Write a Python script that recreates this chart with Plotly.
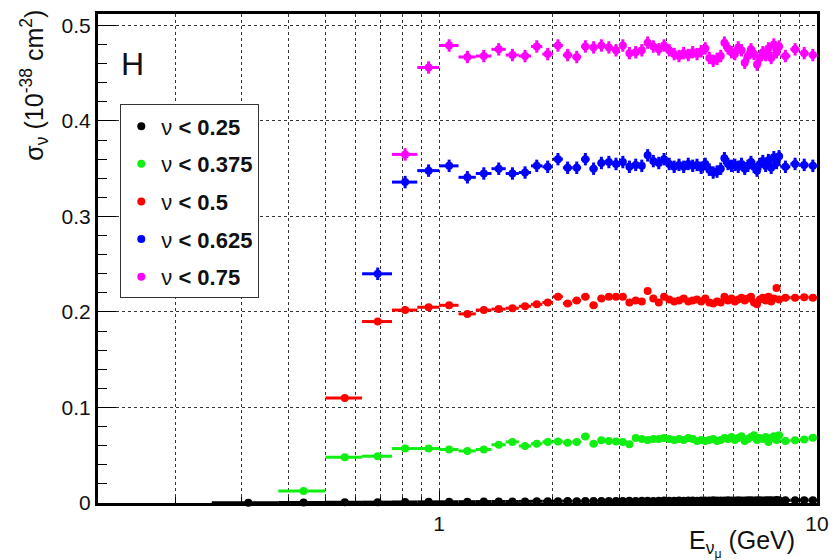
import plotly.graph_objects as go

# Energy binning (GeV): 0.125 GeV bins up to 8 GeV, then 0.5 GeV bins to 10 GeV
energy_edges = [
    0.25, 0.375, 0.5, 0.625, 0.75, 0.875, 1.0, 1.125, 1.25, 1.375, 1.5, 1.625,
    1.75, 1.875, 2.0, 2.125, 2.25, 2.375, 2.5, 2.625, 2.75, 2.875, 3.0, 3.125,
    3.25, 3.375, 3.5, 3.625, 3.75, 3.875, 4.0, 4.125, 4.25, 4.375, 4.5, 4.625,
    4.75, 4.875, 5.0, 5.125, 5.25, 5.375, 5.5, 5.625, 5.75, 5.875, 6.0, 6.125,
    6.25, 6.375, 6.5, 6.625, 6.75, 6.875, 7.0, 7.125, 7.25, 7.375, 7.5, 7.625,
    7.75, 7.875, 8.0, 8.5, 9.0, 9.5, 10.0,
]

# Cross sections (1e-38 cm^2) per energy bin; each series starts at its first open bin
xs_nu_025 = [
    0.0003, 0.0006, 0.0008, 0.0009, 0.0011, 0.0012, 0.0013, 0.0014, 0.0015, 0.0016,
    0.0016, 0.0017, 0.0018, 0.0018, 0.0019, 0.0020, 0.0019, 0.0021, 0.0020, 0.0021,
    0.0022, 0.0021, 0.0022, 0.0023, 0.0022, 0.0024, 0.0023, 0.0022, 0.0024, 0.0025,
    0.0023, 0.0024, 0.0026, 0.0024, 0.0025, 0.0026, 0.0024, 0.0027, 0.0025, 0.0026,
    0.0028, 0.0025, 0.0027, 0.0026, 0.0028, 0.0027, 0.0025, 0.0029, 0.0027, 0.0026,
    0.0028, 0.0030, 0.0027, 0.0029, 0.0028, 0.0026, 0.0030, 0.0028, 0.0029, 0.0027,
    0.0031, 0.0029, 0.0028, 0.0029, 0.0030, 0.0029,
]
xs_nu_0375 = [
    0.0125, 0.048, 0.049, 0.057, 0.057, 0.056, 0.0545, 0.056, 0.061, 0.064,
    0.0597, 0.062, 0.064, 0.0645, 0.063, 0.064, 0.0697, 0.062, 0.0656, 0.065,
    0.0645, 0.064, 0.0614, 0.068, 0.067, 0.066, 0.067, 0.067, 0.068, 0.067,
    0.066, 0.067, 0.066, 0.068, 0.067, 0.065, 0.066, 0.065, 0.066, 0.067,
    0.065, 0.066, 0.068, 0.067, 0.069, 0.066, 0.068, 0.070, 0.065, 0.067,
    0.069, 0.071, 0.066, 0.068, 0.067, 0.069, 0.064, 0.068, 0.070, 0.066,
    0.071, 0.0648, 0.0656, 0.0666, 0.0684,
]
xs_nu_05 = [
    0.110, 0.190, 0.202, 0.205, 0.207, 0.198, 0.202, 0.203, 0.204, 0.206,
    0.208, 0.210, 0.216, 0.209, 0.212, 0.216, 0.207, 0.214, 0.216, 0.216,
    0.216, 0.210, 0.212, 0.211, 0.222, 0.214, 0.210, 0.216, 0.213, 0.211,
    0.212, 0.214, 0.211, 0.212, 0.213, 0.211, 0.214, 0.210, 0.209, 0.211,
    0.210, 0.216, 0.212, 0.214, 0.211, 0.213, 0.215, 0.212, 0.214, 0.216,
    0.210, 0.208, 0.213, 0.215, 0.212, 0.216, 0.211, 0.214, 0.225, 0.213,
    0.215, 0.215, 0.2155, 0.215,
]
xs_nu_0625 = [
    0.240, 0.336, 0.348, 0.353, 0.341, 0.345, 0.350, 0.345, 0.346, 0.353,
    0.352, 0.360, 0.351, 0.351, 0.360, 0.350, 0.356, 0.357, 0.355, 0.357,
    0.352, 0.354, 0.353, 0.364, 0.358, 0.356, 0.360, 0.355, 0.352, 0.354,
    0.352, 0.355, 0.353, 0.354, 0.351, 0.355, 0.349, 0.346, 0.347, 0.350,
    0.361, 0.355, 0.353, 0.354, 0.352, 0.355, 0.350, 0.353, 0.357, 0.352,
    0.348, 0.355, 0.358, 0.353, 0.359, 0.351, 0.362, 0.356, 0.363, 0.352,
    0.355, 0.354, 0.353,
]
xs_nu_075 = [
    0.365, 0.456, 0.479, 0.467, 0.468, 0.475, 0.469, 0.468, 0.478, 0.470,
    0.479, 0.469, 0.467, 0.478, 0.477, 0.479, 0.477, 0.474, 0.479, 0.471,
    0.472, 0.474, 0.482, 0.478, 0.475, 0.479, 0.474, 0.470, 0.468, 0.471,
    0.469, 0.472, 0.470, 0.473, 0.476, 0.466, 0.463, 0.465, 0.468, 0.482,
    0.476, 0.472, 0.470, 0.477, 0.474, 0.461, 0.468, 0.475, 0.470, 0.459,
    0.466, 0.472, 0.469, 0.476, 0.466, 0.480, 0.472, 0.478, 0.468, 0.475,
    0.471, 0.469,
]

series_labels = ["0.25", "0.375", "0.5", "0.625", "0.75"]
series_values = [xs_nu_025, xs_nu_0375, xs_nu_05, xs_nu_0625, xs_nu_075]
series_first_bin = [0, 1, 2, 3, 4]
series_yerr = [0.0004, 0.0015, 0.0025, 0.0065, 0.0065]
series_colors = ["#000000", "#11ee11", "#ff0000", "#0000ff", "#ff00ff"]

centers = [(lo + hi) / 2 for lo, hi in zip(energy_edges[:-1], energy_edges[1:])]
half_widths = [(hi - lo) / 2 for lo, hi in zip(energy_edges[:-1], energy_edges[1:])]

fig = go.Figure()
for label, vals, first, yerr, color in zip(series_labels, series_values,
                                           series_first_bin, series_yerr, series_colors):
    x = centers[first:first + len(vals)]
    dx = half_widths[first:first + len(vals)]
    fig.add_trace(go.Scatter(
        x=x, y=vals, mode="markers",
        name="ν <b>&lt; " + label + "</b>",
        legendgroup=label,
        marker=dict(color=color, size=8, symbol="circle"),
        error_x=dict(type="data", array=dx, visible=True, color=color,
                     thickness=3, width=0),
        error_y=dict(type="constant", value=yerr, visible=True, color=color,
                     thickness=3, width=0),
        cliponaxis=False,
    ))

grid_style = dict(showgrid=True, gridcolor="#333333", gridwidth=1, griddash="dot")

fig.update_layout(
    width=840, height=560,
    margin=dict(l=98, r=15, t=11, b=57),
    paper_bgcolor="white", plot_bgcolor="white",
    font=dict(family="Liberation Sans, Arial, sans-serif", color="#111111", size=20),
    showlegend=True,
    legend=dict(
        x=0.031, y=0.815, xanchor="left", yanchor="top",
        bgcolor="white", bordercolor="#333333", borderwidth=1,
        font=dict(size=22, color="#111111"),
        tracegroupgap=6, itemwidth=30,
    ),
    xaxis=dict(
        type="log", range=[-0.90309, 1.0],
        tickmode="array", tickvals=[1, 10], ticktext=["1", "10"],
        ticks="inside", ticklen=12, tickwidth=1, tickcolor="#000000",
        showline=True, linewidth=3, linecolor="#000000", mirror=True,
        zeroline=False, tickfont=dict(size=21),
        minor=dict(tickmode="array",
                   tickvals=[0.2, 0.3, 0.4, 0.5, 0.6, 0.7, 0.8, 0.9,
                             2, 3, 4, 5, 6, 7, 8, 9],
                   ticks="inside", ticklen=6, tickcolor="#000000", **grid_style),
        **grid_style,
    ),
    yaxis=dict(
        range=[0, 0.512], dtick=0.1, tick0=0,
        ticks="inside", ticklen=18, tickwidth=1, tickcolor="#000000",
        showline=True, linewidth=3, linecolor="#000000", mirror=True,
        zeroline=False, tickfont=dict(size=21),
        minor=dict(dtick=0.02, ticks="inside", ticklen=9, tickcolor="#000000",
                   showgrid=False),
        **grid_style,
    ),
    annotations=[
        dict(text="H", xref="paper", yref="paper", x=0.029, y=0.897,
             xanchor="left", yanchor="middle", showarrow=False,
             font=dict(size=32, color="#111111")),
        dict(text="E<sub>ν<sub>μ</sub></sub> (GeV)", xref="paper", yref="paper",
             x=0.9725, y=-0.082, xanchor="right", yanchor="middle", showarrow=False,
             font=dict(size=25, color="#111111")),
        dict(text="σ<sub>ν</sub> (10<sup>-38</sup> cm<sup>2</sup>)", xref="paper",
             yref="paper", x=-0.089, y=1.012, xanchor="center", yanchor="top",
             textangle=-90, showarrow=False, font=dict(size=25, color="#111111")),
    ],
)

fig.write_html("out.html")
